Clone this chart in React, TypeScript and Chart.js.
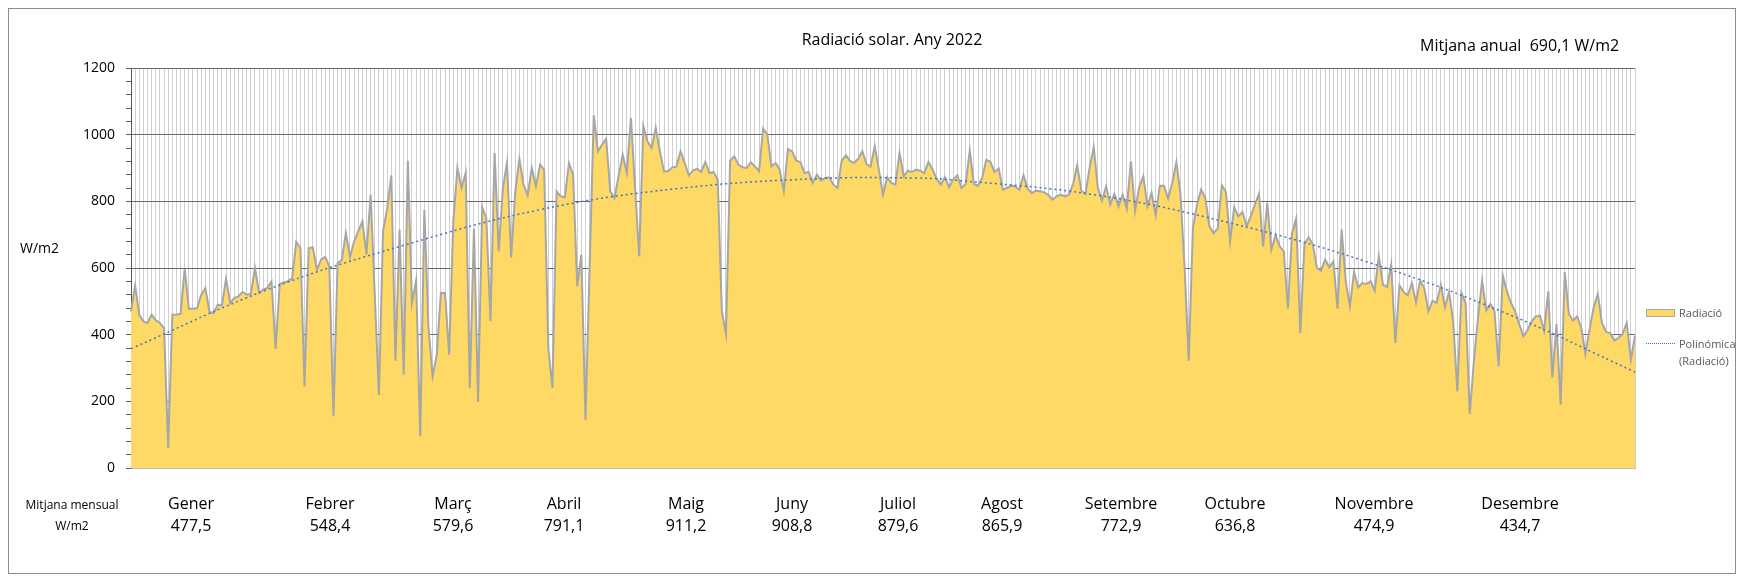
import React, { useEffect, useRef } from "react";
import { Chart, registerables } from "chart.js";

Chart.register(...registerables);

// Daily solar radiation (W/m2), 2022, one small array per month
const jan = [470, 547, 460, 440, 435, 460, 443, 435, 420, 60, 460, 460, 463, 597, 478, 478, 480, 520, 540, 468, 465, 490, 488, 568, 495, 510, 515, 528, 520, 522, 600];
const feb = [525, 535, 540, 560, 358, 552, 557, 560, 570, 678, 660, 245, 660, 662, 595, 625, 633, 605, 155, 615, 623, 705, 633, 680, 710, 740, 640, 820];
const mar = [520, 218, 710, 778, 878, 322, 715, 280, 922, 495, 562, 95, 775, 420, 275, 340, 525, 525, 340, 740, 900, 840, 885, 240, 718, 198, 782, 750, 440, 945, 650];
const apr = [840, 915, 632, 830, 927, 850, 818, 900, 845, 910, 895, 360, 240, 830, 815, 812, 915, 880, 545, 640, 145, 605, 1058, 950, 970, 988, 830, 810, 875, 940];
const may = [885, 1050, 840, 635, 1025, 980, 960, 1020, 950, 890, 890, 902, 904, 950, 915, 878, 892, 898, 888, 918, 885, 888, 865, 470, 402, 922, 935, 910, 902, 900, 917];
const jun = [905, 890, 1018, 1000, 905, 915, 895, 830, 957, 950, 922, 918, 885, 888, 855, 880, 862, 870, 872, 850, 840, 922, 938, 922, 915, 928, 950, 912, 905, 965];
const jul = [895, 820, 872, 855, 850, 945, 875, 892, 888, 895, 892, 885, 918, 895, 868, 850, 872, 842, 866, 878, 840, 852, 952, 852, 847, 870, 925, 918, 888, 898, 835];
const aug = [840, 847, 845, 835, 878, 838, 825, 832, 830, 827, 820, 805, 815, 820, 815, 820, 852, 908, 832, 822, 900, 962, 840, 802, 845, 790, 822, 785, 820, 778, 920];
const sep = [772, 842, 875, 785, 825, 758, 847, 847, 808, 855, 918, 820, 600, 322, 720, 790, 835, 810, 725, 705, 718, 848, 828, 680, 782, 755, 768, 725, 755, 790];
const oct = [822, 665, 795, 655, 698, 665, 650, 478, 705, 748, 405, 672, 692, 672, 600, 592, 625, 602, 620, 478, 715, 560, 485, 588, 542, 555, 552, 560, 532, 635, 550];
const nov = [543, 610, 375, 548, 528, 518, 555, 497, 562, 540, 470, 502, 495, 550, 482, 528, 440, 230, 525, 495, 162, 320, 450, 562, 472, 492, 470, 305, 578, 530];
const dec = [495, 470, 430, 395, 415, 440, 455, 457, 412, 530, 272, 432, 190, 588, 462, 442, 455, 420, 342, 415, 482, 522, 435, 408, 405, 382, 390, 402, 435, 325, 397];

// Polynomial trendline at a few days
const trendDays = [0, 33, 66, 99, 132, 166, 190, 199, 233, 266, 299, 333, 364];
const trendValues = [358, 535, 668, 775, 838, 868, 870, 864, 820, 735, 619, 463, 288];

const monthNames = ["Gener", "Febrer", "Març", "Abril", "Maig", "Juny", "Juliol", "Agost", "Setembre", "Octubre", "Novembre", "Desembre"];
const monthMeans = ["477,5", "548,4", "579,6", "791,1", "911,2", "908,8", "879,6", "865,9", "772,9", "636,8", "474,9", "434,7"];
const yMajorTicks = [0, 200, 400, 600, 800, 1000, 1200];

// layout (page x centers of month labels)
const monthLabelX = [191, 330, 453, 564, 686, 792, 898, 1002, 1121, 1235, 1374, 1520];

const FONT = "'Open Sans', 'Noto Sans', sans-serif";

export default function App() {
  const canvasRef = useRef<HTMLCanvasElement | null>(null);

  useEffect(() => {
    const radiation = [...jan, ...feb, ...mar, ...apr, ...may, ...jun, ...jul, ...aug, ...sep, ...oct, ...nov, ...dec];
    const labels = radiation.map((_, i) => String(i + 1));
    const trend: (number | null)[] = radiation.map(() => null);
    trendDays.forEach((d, i) => {
      trend[d] = trendValues[i];
    });

    const chart = new Chart(canvasRef.current as HTMLCanvasElement, {
      type: "line",
      data: {
        labels,
        datasets: [
          {
            label: "Polinómica (Radiació)",
            data: trend,
            borderColor: "#4472C4",
            borderWidth: 1.5,
            borderDash: [2, 3],
            pointRadius: 0,
            spanGaps: true,
            tension: 0.4,
            fill: false,
            order: 0,
          },
          {
            label: "Radiació",
            data: radiation,
            borderColor: "#A6A6A6",
            backgroundColor: "#FFD966",
            borderWidth: 2,
            pointRadius: 0,
            tension: 0,
            fill: "origin",
            order: 1,
          },
        ],
      },
      options: {
        animation: false,
        responsive: false,
        maintainAspectRatio: false,
        layout: { padding: { left: 52, right: 100, top: 59, bottom: 105 } },
        plugins: {
          legend: { display: false },
          title: { display: false },
          tooltip: { enabled: false },
        },
        scales: {
          x: {
            type: "category",
            offset: false,
            ticks: { display: false },
            grid: { color: "#d0d0d0", lineWidth: 1, drawTicks: false },
            border: { color: "#bfbfbf", width: 2 },
            afterFit: (s: any) => {
              s.height = 0;
            },
          },
          y: {
            min: 0,
            max: 1200,
            ticks: {
              stepSize: 40,
              autoSkip: false,
              padding: 11,
              color: "#000000",
              font: { family: FONT, size: 14 },
              callback: (v: any) => (yMajorTicks.includes(Number(v)) ? String(v) : ""),
            },
            grid: {
              color: (c: any) => (c.tick && yMajorTicks.includes(c.tick.value) ? "#6b6b6b" : "rgba(0,0,0,0)"),
              tickColor: "#595959",
              tickLength: 5,
              lineWidth: 1,
            },
            border: { color: "#595959", width: 1 },
            afterFit: (s: any) => {
              s.width = 70;
            },
          },
        },
      },
    });
    return () => chart.destroy();
  }, []);

  const abs = (x: number, y: number, extra: React.CSSProperties = {}): React.CSSProperties => ({
    position: "absolute",
    left: x - 9,
    top: y - 9,
    whiteSpace: "nowrap",
    fontFamily: FONT,
    ...extra,
  });

  return (
    <div
      style={{
        position: "relative",
        width: 1728,
        height: 566,
        border: "1px solid #8c8c8c",
        boxSizing: "border-box",
        background: "#ffffff",
        fontFamily: FONT,
        color: "#000",
      }}
    >
      <canvas ref={canvasRef} width={1726} height={564} style={{ position: "absolute", left: 0, top: 0, width: 1726, height: 564 }} />
      <div style={abs(892, 39, { transform: "translate(-50%,-50%)", fontSize: 16 })}>Radiació solar. Any 2022</div>
      <div style={abs(1420, 45, { transform: "translate(0,-50%)", fontSize: 16 })}>Mitjana anual&nbsp;&nbsp;690,1 W/m2</div>
      <div style={abs(20, 247, { transform: "translate(0,-50%)", fontSize: 14 })}>W/m2</div>
      <div style={abs(72, 504, { transform: "translate(-50%,-50%)", fontSize: 12 })}>Mitjana mensual</div>
      <div style={abs(72, 525, { transform: "translate(-50%,-50%)", fontSize: 12 })}>W/m2</div>
      {monthNames.map((m, i) => (
        <React.Fragment key={m}>
          <div style={abs(monthLabelX[i], 503, { transform: "translate(-50%,-50%)", fontSize: 16 })}>{m}</div>
          <div style={abs(monthLabelX[i], 525, { transform: "translate(-50%,-50%)", fontSize: 16 })}>{monthMeans[i]}</div>
        </React.Fragment>
      ))}
      {/* legend */}
      <div style={abs(1646, 309, { width: 27, height: 6, background: "#FFD966", border: "1px solid #A6A6A6" })} />
      <div style={abs(1679, 312, { transform: "translate(0,-50%)", fontSize: 11, color: "#595959" })}>Radiació</div>
      <div style={abs(1646, 343, { width: 29, height: 0, borderTop: "1.5px dotted #4472C4" })} />
      <div style={abs(1679, 343, { transform: "translate(0,-50%)", fontSize: 11, color: "#595959" })}>Polinómica</div>
      <div style={abs(1679, 360, { transform: "translate(0,-50%)", fontSize: 11, color: "#595959" })}>(Radiació)</div>
    </div>
  );
}
